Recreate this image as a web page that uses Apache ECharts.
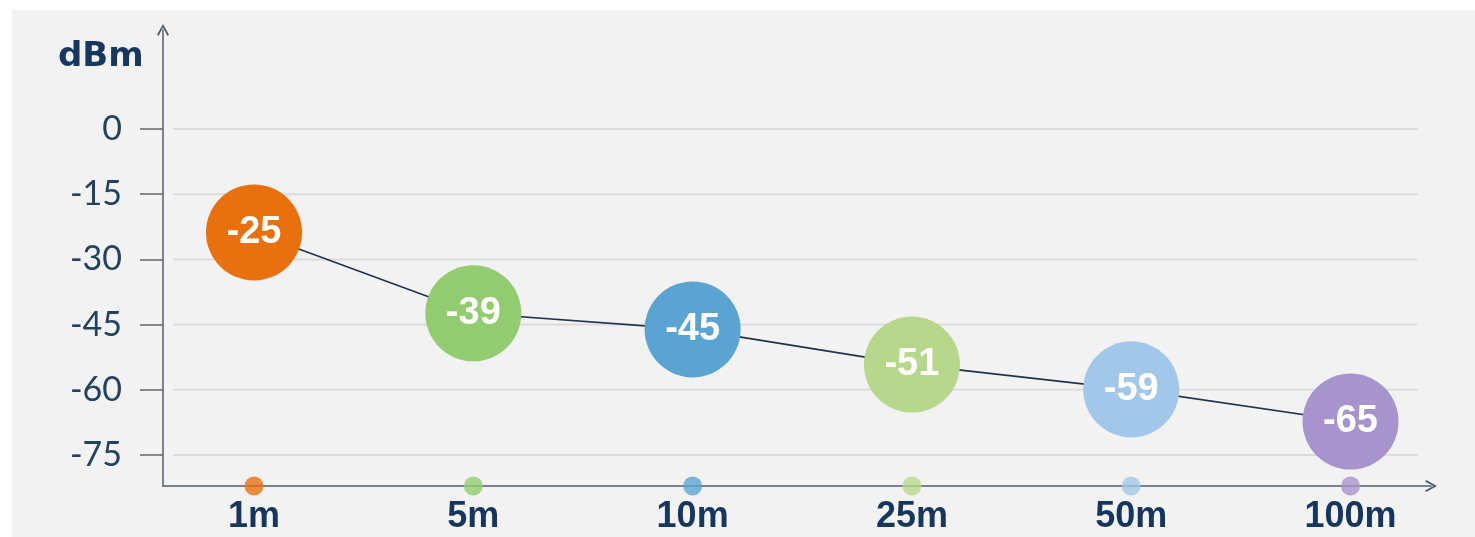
<!DOCTYPE html>
<html>
<head>
<meta charset="utf-8">
<script src="https://cdn.jsdelivr.net/npm/echarts@6/dist/echarts.min.js"></script>
<style>
  html, body { margin: 0; padding: 0; background: #ffffff; }
  #chart { position: absolute; left: 12px; top: 10px; width: 1463px; height: 527px; background: #f2f2f2; }
</style>
</head>
<body>
<div id="chart"></div>
<script>
// ---- data ----
const categories = ['1m', '5m', '10m', '25m', '50m', '100m'];
const labelValues = [-25, -39, -45, -51, -59, -65];          // numbers printed in the bubbles
const plotValues = [-23.8, -42.4, -46.1, -54.2, -59.9, -67.3]; // bubble heights as drawn
const yTickValues = [0, -15, -30, -45, -60, -75];
const yAxisName = 'dBm';

// ---- styles ----
const colors = ['#e8700f', '#93cc70', '#5ba4d2', '#b7d78c', '#a2c7e8', '#a894cc'];
const yMin = -82.13, yMax = 22.77;
const xMin = -0.415, xMax = 5.367;
const gridX0 = -0.369, gridX1 = 5.308;
const chevron = 'path://M0,9 L5,0 L10,9 L8.8,10 L5,3 L1.2,10 Z';
const axisColor = '#4f5d6b';

const chart = echarts.init(document.getElementById('chart'), null, { renderer: 'canvas' });

const gridSeries = yTickValues.map(v => ({
  type: 'line',
  data: [[gridX0, v], [gridX1, v]],
  symbol: 'none',
  silent: true,
  z: 1,
  lineStyle: { color: '#dcdcdc', width: 2 },
  emphasis: { disabled: true }
}));

const option = {
  animation: false,
  backgroundColor: 'transparent',
  grid: { left: 151, right: 44, top: 20, bottom: 51 },
  graphic: [{
    type: 'text',
    left: 46, top: 30,
    style: {
      text: yAxisName,
      font: 'bold 34px "DejaVu Sans"',
      fill: '#17375e'
    }
  }],
  xAxis: {
    type: 'value',
    min: xMin, max: xMax,
    axisLine: {
      show: true, onZero: false,
      symbol: ['none', chevron], symbolSize: [13, 12],
      lineStyle: { color: axisColor, width: 1.5 }
    },
    axisTick: { show: false },
    splitLine: { show: false },
    axisLabel: {
      customValues: categories.map((c, i) => i),
      formatter: v => categories[Math.round(v)],
      margin: 13,
      fontSize: 36,
      fontWeight: 'bold',
      fontFamily: '"Liberation Sans", Arial, sans-serif',
      color: '#17365d'
    }
  },
  yAxis: {
    type: 'value',
    min: yMin, max: yMax,
    axisLine: {
      show: true, onZero: false,
      symbol: ['none', chevron], symbolSize: [15, 12],
      lineStyle: { color: axisColor, width: 1.5 }
    },
    axisTick: {
      show: true, length: 23,
      customValues: yTickValues,
      lineStyle: { color: '#666666', width: 1.5 }
    },
    splitLine: { show: false },
    axisLabel: {
      customValues: yTickValues,
      margin: 41,
      fontSize: 34,
      fontFamily: 'Lato, "Open Sans", sans-serif',
      color: '#24425f'
    }
  },
  series: [
    ...gridSeries,
    {
      type: 'line',
      z: 3,
      data: plotValues.map((v, i) => ({ value: [i, v], itemStyle: { color: colors[i] } })),
      symbol: 'circle',
      symbolSize: 96,
      showAllSymbol: true,
      lineStyle: { color: '#1e344c', width: 1.6 },
      label: {
        show: true,
        position: 'inside',
        formatter: p => String(labelValues[p.dataIndex]),
        color: '#ffffff',
        fontSize: 38,
        fontWeight: 'bold',
        fontFamily: '"Liberation Sans", Arial, sans-serif'
      },
      emphasis: { disabled: true }
    },
    {
      type: 'scatter',
      z: 4,
      clip: false,
      symbol: 'circle',
      symbolSize: 19,
      data: categories.map((c, i) => ({ value: [i, yMin], itemStyle: { color: colors[i] } })),
      emphasis: { disabled: true }
    }
  ]
};

chart.setOption(option);
</script>
</body>
</html>
